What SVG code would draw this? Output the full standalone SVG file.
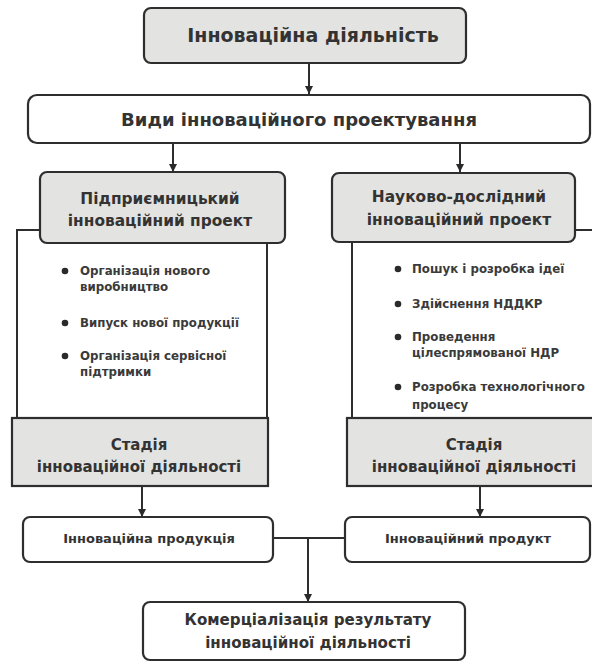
<svg xmlns="http://www.w3.org/2000/svg" width="592" height="662" viewBox="0 0 592 662">
<defs>
<marker id="ah" viewBox="0 0 10 10" refX="10" refY="5" markerWidth="8" markerHeight="9" orient="auto" markerUnits="userSpaceOnUse">
<path d="M0,0 L10,5 L0,10 z" fill="#2a2a2a"/>
</marker>
<style>
.box{stroke:#2e2e2e;stroke-width:2.2}
.gray{fill:#e3e3e1}
.white{fill:#ffffff}
.ln{fill:none;stroke:#2e2e2e;stroke-width:2}
.t{font-family:"DejaVu Sans","Liberation Sans",sans-serif;font-weight:bold;fill:#333;text-anchor:middle}
.b{font-family:"DejaVu Sans","Liberation Sans",sans-serif;font-weight:bold;fill:#3a3a3a;font-size:11.8px}
.dot{fill:#2a2a2a}
</style>
</defs>
<rect width="592" height="662" fill="#ffffff"/>
<g id="connectors">
<line class="ln" x1="309" y1="63" x2="309" y2="94" marker-end="url(#ah)"/>
<line class="ln" x1="173" y1="143" x2="173" y2="172" marker-end="url(#ah)"/>
<line class="ln" x1="460" y1="143" x2="460" y2="172" marker-end="url(#ah)"/>
<line class="ln" x1="142" y1="486" x2="142" y2="517" marker-end="url(#ah)"/>
<line class="ln" x1="480" y1="486" x2="480" y2="517" marker-end="url(#ah)"/>
<line class="ln" x1="273" y1="538" x2="345" y2="538"/>
<line class="ln" x1="308" y1="538" x2="308" y2="602" marker-end="url(#ah)"/>
</g>
<g id="n-top">
<rect class="box gray" x="144" y="8" width="322" height="55" rx="7"/>
<text class="t" x="313" y="42" font-size="19">Інноваційна діяльність</text>
</g>
<g id="n-vydy">
<rect class="box white" x="28" y="95" width="562" height="48" rx="9"/>
<text class="t" x="299" y="126" font-size="18">Види інноваційного проектування</text>
</g>
<g id="n-left-content">
<path class="ln" d="M40,230 H17 V418 M267,243 V418"/>
<circle class="dot" cx="65" cy="271" r="3.3"/>
<text class="b" x="80" y="275">Організація нового</text>
<text class="b" x="80" y="291">виробництво</text>
<circle class="dot" cx="65" cy="323" r="3.3"/>
<text class="b" x="80" y="327">Випуск нової продукції</text>
<circle class="dot" cx="65" cy="356" r="3.3"/>
<text class="b" x="80" y="360">Організація сервісної</text>
<text class="b" x="80" y="376">підтримки</text>
</g>
<g id="n-left-head">
<rect class="box gray" x="40" y="172" width="245" height="71" rx="7"/>
<text class="t" x="160" y="204" font-size="15.4">Підприємницький</text>
<text class="t" x="160" y="226" font-size="15.4">інноваційний проект</text>
</g>
<g id="n-right-content">
<path class="ln" d="M575,230 H592 M352,242 V418"/>
<circle class="dot" cx="398" cy="269" r="3.3"/>
<text class="b" x="412" y="273">Пошук і розробка ідеї</text>
<circle class="dot" cx="398" cy="304" r="3.3"/>
<text class="b" x="412" y="308">Здійснення НДДКР</text>
<circle class="dot" cx="398" cy="337" r="3.3"/>
<text class="b" x="412" y="341">Проведення</text>
<text class="b" x="412" y="357">цілеспрямованої НДР</text>
<circle class="dot" cx="398" cy="387" r="3.3"/>
<text class="b" x="412" y="391">Розробка технологічного</text>
<text class="b" x="412" y="409">процесу</text>
</g>
<g id="n-right-head">
<rect class="box gray" x="332" y="173" width="243" height="69" rx="7"/>
<text class="t" x="459" y="202" font-size="15.4">Науково-дослідний</text>
<text class="t" x="459" y="225" font-size="15.4">інноваційний проект</text>
</g>
<g id="n-left-stage">
<rect class="box gray" x="12" y="418" width="256" height="68"/>
<text class="t" x="139" y="450" font-size="15">Стадія</text>
<text class="t" x="139" y="472" font-size="15">інноваційної діяльності</text>
</g>
<g id="n-right-stage">
<rect class="box gray" x="347" y="418" width="260" height="68"/>
<text class="t" x="474" y="450" font-size="15">Стадія</text>
<text class="t" x="474" y="472" font-size="15">інноваційної діяльності</text>
</g>
<g id="n-left-product">
<rect class="box white" x="23" y="517" width="250" height="45" rx="7"/>
<text class="t" x="149" y="543" font-size="13">Інноваційна продукція</text>
</g>
<g id="n-right-product">
<rect class="box white" x="345" y="517" width="245" height="45" rx="7"/>
<text class="t" x="468" y="543" font-size="13">Інноваційний продукт</text>
</g>
<g id="n-bottom">
<rect class="box white" x="143" y="602" width="322" height="58" rx="7"/>
<text class="t" x="308" y="625" font-size="15.1">Комерціалізація результату</text>
<text class="t" x="308" y="648" font-size="15.1">інноваційної діяльності</text>
</g>
</svg>
